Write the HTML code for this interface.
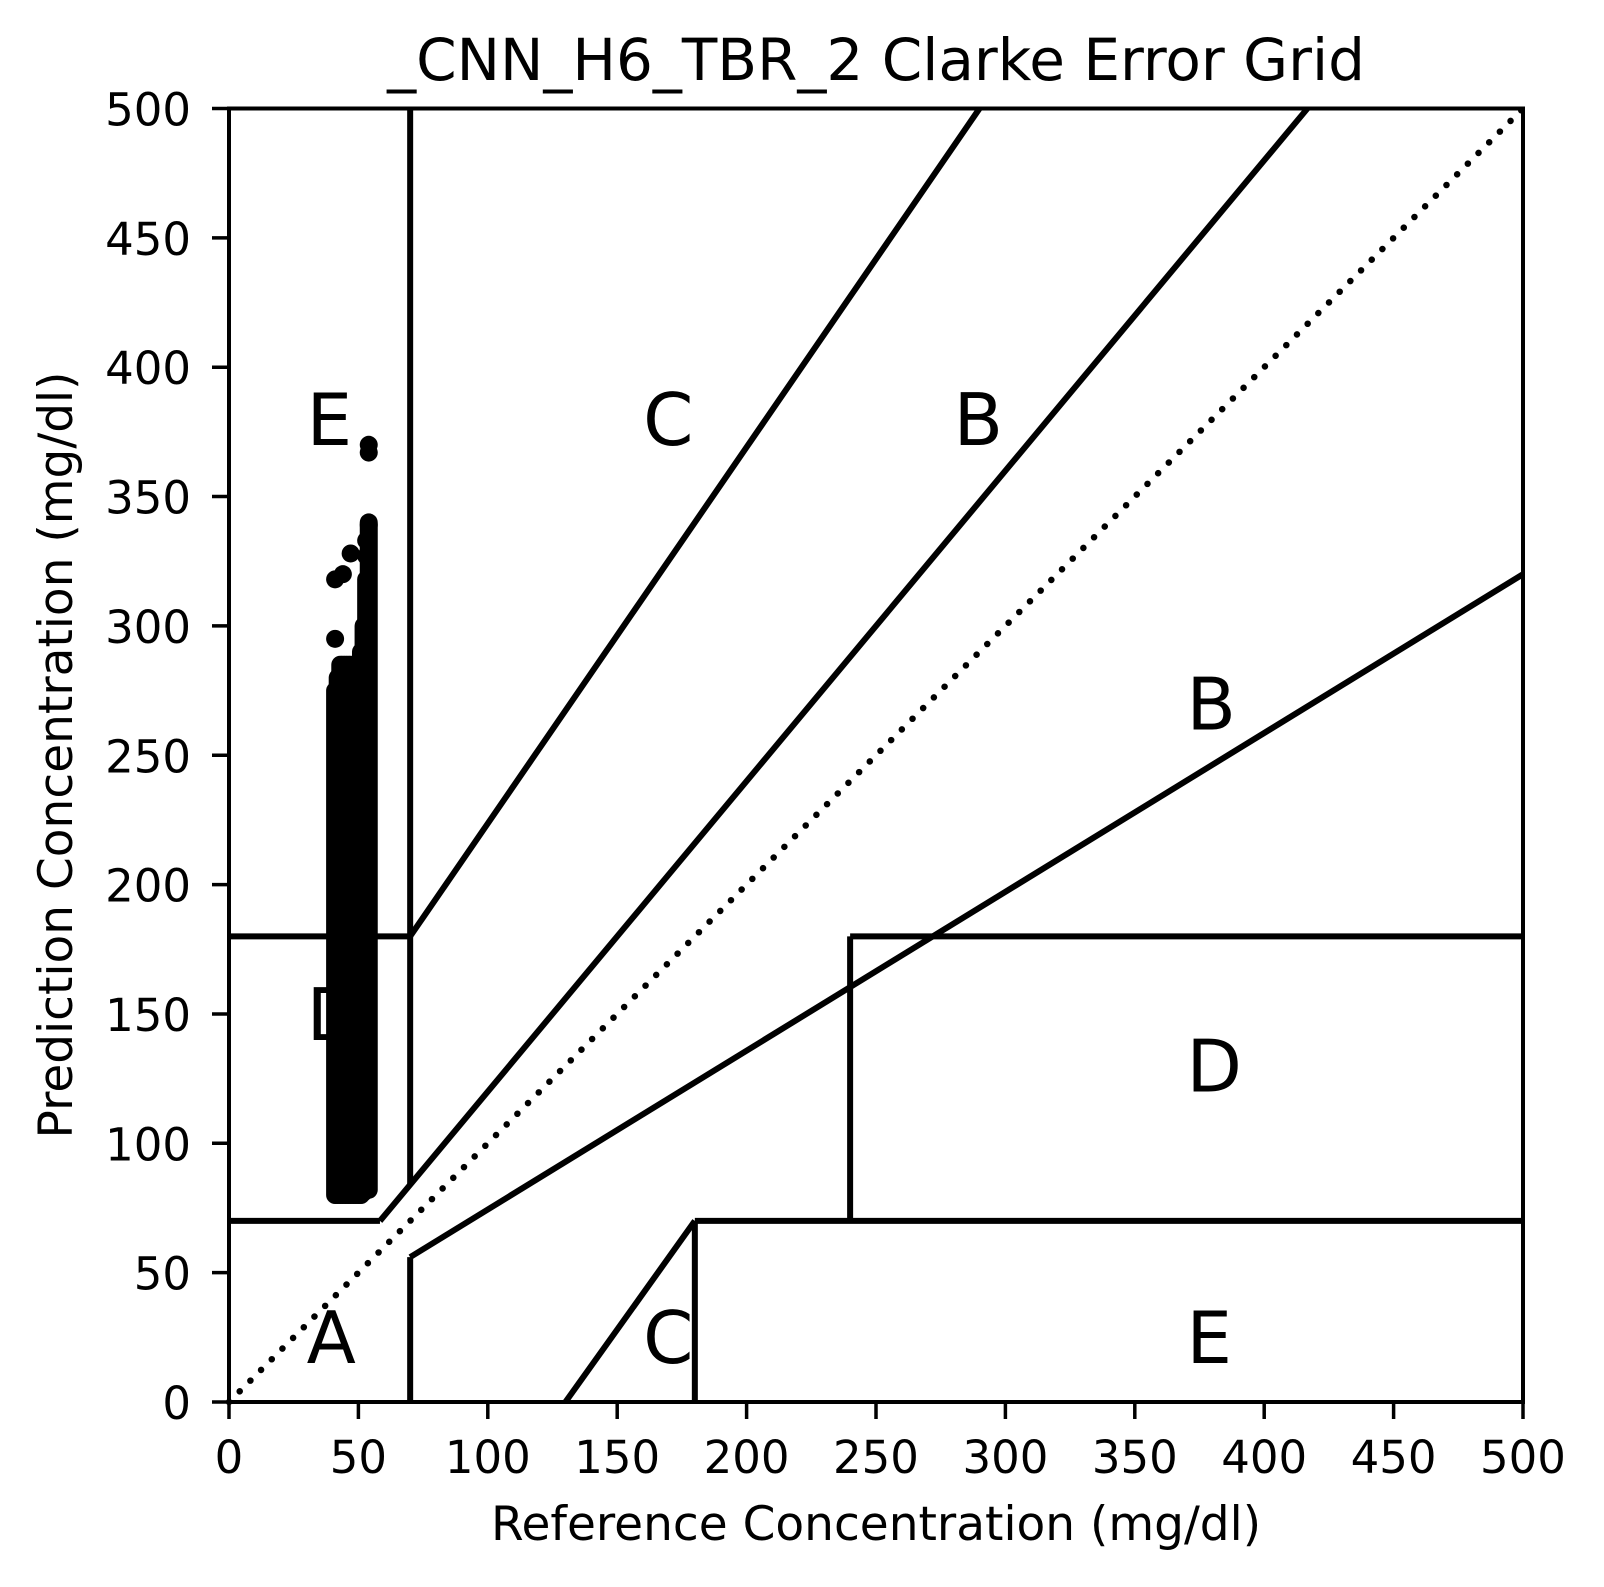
<!DOCTYPE html>
<html><head><meta charset="utf-8"><style>
html,body{margin:0;padding:0;background:#fff;}
svg{display:block;font-family:"DejaVu Sans","Liberation Sans",sans-serif;}
</style></head><body>
<svg id="chart" width="1604" height="1587" viewBox="0 0 1604 1587" xmlns="http://www.w3.org/2000/svg">
<rect width="1604" height="1587" fill="#fff"/>
<text x="876" y="80" font-size="58" text-anchor="middle">_CNN_H6_TBR_2 Clarke Error Grid</text>
<g id="grid"></g>
<g id="pts"></g>
<g id="labels"></g>
<g id="axes"></g>
<text x="876" y="1540" font-size="47" text-anchor="middle">Reference Concentration (mg/dl)</text>
<text transform="translate(72,755) rotate(-90)" font-size="47" text-anchor="middle">Prediction Concentration (mg/dl)</text>
</svg>
<script>
const ticks = [0,50,100,150,200,250,300,350,400,450,500];
const colX = [41,42,43,44,45,46,47,48,49,50,51,52,53,54];
const colMin = [80,80,80,80,80,80,80,80,80,80,80,81,82,82];
const colMax = [275,280,285,285,285,285,285,275,275,275,290,300,318,340];
const outX = [41,41,44,47,53,54,54,54,53];
const outY = [318,295,320,328,333,339,367,370,327];
const zoneLines = [
 [[0,58.33],[70,70]], [[58.33,416.7],[70,500]], [[70,70],[84,500]], [[0,70],[180,180]],
 [[70,290],[180,500]], [[70,70],[0,56]], [[70,500],[56,320]], [[180,180],[0,70]],
 [[180,500],[70,70]], [[240,240],[70,180]], [[240,500],[180,180]], [[130,180],[0,70]]
];
const zoneText = ["A","B","B","C","C","D","D","E","E"];
const zoneLX = [30,370,280,160,160,30,370,30,370];
const zoneLY = [15,260,370,370,15,140,120,370,15];

const NS="http://www.w3.org/2000/svg";
const X0=229,X1=1523,Y0=1402,Y1=108.5;
const sx=v=>X0+(v/500)*(X1-X0), sy=v=>Y0-(v/500)*(Y0-Y1);
function mk(tag,attrs,parent){const e=document.createElementNS(NS,tag);for(const k in attrs)e.setAttribute(k,attrs[k]);parent.appendChild(e);return e;}
const G=document.getElementById('grid'),P=document.getElementById('pts'),L=document.getElementById('labels'),A=document.getElementById('axes');

let diag=mk('line',{x1:sx(0),y1:sy(0),x2:sx(500),y2:sy(500),stroke:'#000','stroke-width':6.5,'stroke-dasharray':'0.1 15','stroke-linecap':'round'},G);


zoneLines.forEach(z=>{
 const l=mk('line',{x1:sx(z[0][0]),y1:sy(z[1][0]),x2:sx(z[0][1]),y2:sy(z[1][1]),stroke:'#000','stroke-width':6},G);
 
 
});
colX.forEach((x,i)=>{
 const l=mk('line',{x1:sx(x),y1:sy(colMin[i]),x2:sx(x),y2:sy(colMax[i]),stroke:'#000','stroke-width':18,'stroke-linecap':'round'},P);
 
 
});
outX.forEach((x,i)=>{
 const c=mk('circle',{cx:sx(x),cy:sy(outY[i]),r:9,fill:'#000'},P);
 
 
});
zoneText.forEach((t,i)=>{
 const e=mk('text',{x:sx(zoneLX[i]),y:sy(zoneLY[i]),'font-size':72},L);
 e.textContent=t;
 
 
});
const fr=mk('rect',{x:X0,y:Y1,width:X1-X0,height:Y0-Y1,fill:'none',stroke:'#000','stroke-width':4},A);


ticks.forEach(t=>{
 const a=mk('line',{x1:sx(t),y1:Y0,x2:sx(t),y2:Y0+17,stroke:'#000','stroke-width':3.5},A);
 
 
 const b=mk('text',{x:sx(t),y:1473,'font-size':45,'text-anchor':'middle'},A);
 b.textContent=t;
 
 
 const c=mk('line',{x1:X0-17,y1:sy(t),x2:X0,y2:sy(t),stroke:'#000','stroke-width':3.5},A);
 
 
 const d=mk('text',{x:X0-38,y:sy(t)+17,'font-size':45,'text-anchor':'end'},A);
 d.textContent=t;
 
 
});
</script>
</body></html>
